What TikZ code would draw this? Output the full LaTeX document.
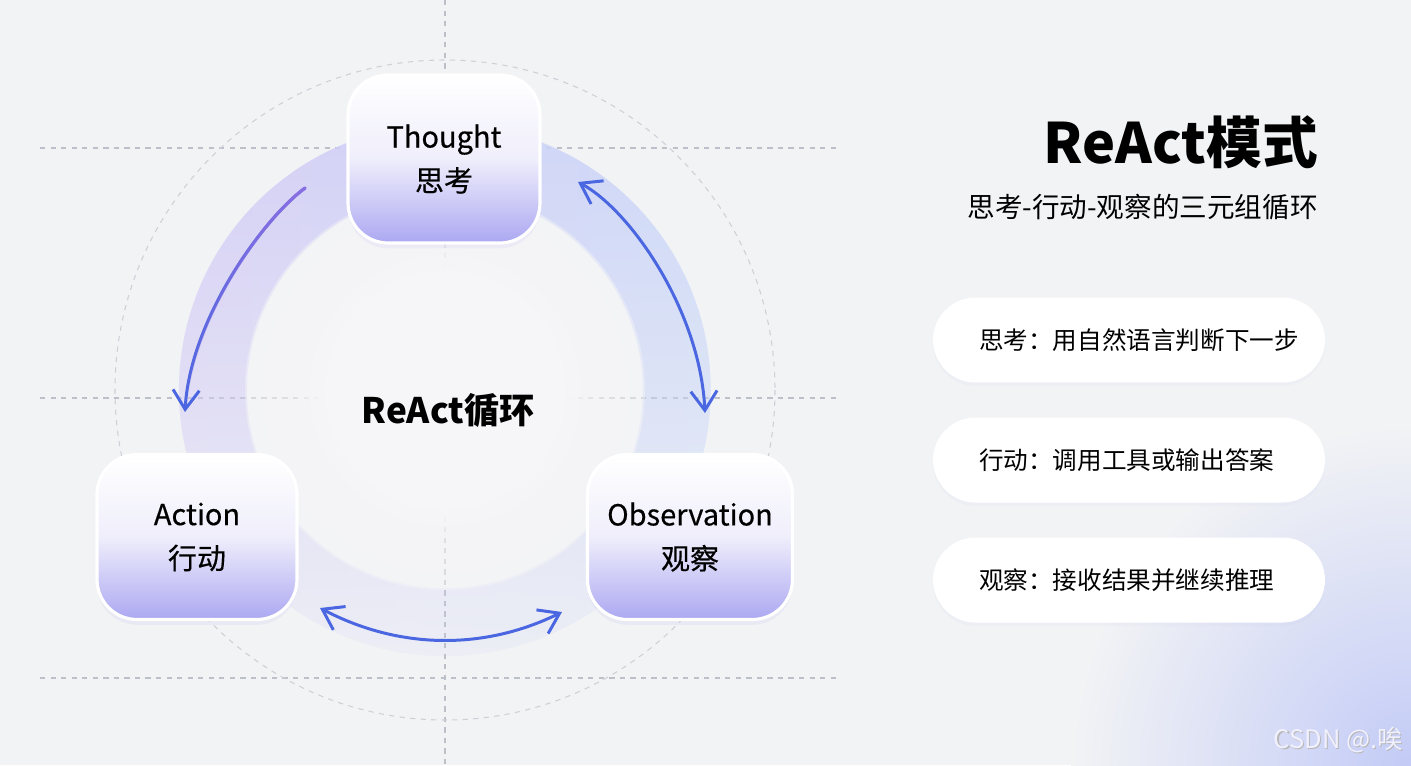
\documentclass[tikz,border=0pt]{standalone}
\usepackage{fontspec}
\setmainfont{Noto Sans CJK SC}
\newfontfamily\cardfont{Noto Sans CJK SC}[FakeBold=0.4]
\usetikzlibrary{arrows.meta,fadings,shadows}
\definecolor{bgc}{HTML}{F2F3F5}
\definecolor{gridc}{HTML}{BCC0C8}
\definecolor{arrc}{HTML}{4A66E0}
\definecolor{arrp}{HTML}{8A6FE2}
\definecolor{cardlow}{HTML}{ACA8F2}
\definecolor{cardmid}{HTML}{EFEEFB}
\definecolor{bandl}{HTML}{D3CBF6}
\definecolor{bandr}{HTML}{C9D6F8}
\definecolor{glow}{HTML}{C3CBF6}
\definecolor{diskc}{HTML}{F6F6F8}
\tikzfading[name=bandfade, top color=transparent!10, bottom color=transparent!85]
\tikzfading[name=diskfade, inner color=transparent!0, outer color=transparent!55]
\tikzfading[name=arrowfade, top color=transparent!0, bottom color=transparent!100]
\tikzset{
  stepcard/.style={draw=white, line width=1.8pt, rounded corners=0.8cm,
    top color=white, bottom color=cardlow, middle color=cardmid,
    align=center, minimum height=3.3cm, font=\cardfont\fontsize{16.5}{25}\selectfont,
    drop shadow={opacity=0.12, shadow xshift=0pt, shadow yshift=-3pt, fill=cardlow}},
  pill/.style={fill=white, rounded corners=0.85cm, minimum height=1.7cm,
    text width=6cm, inner xsep=0.92cm, align=left, font=\fontsize{14}{17}\selectfont,
    drop shadow={opacity=0.05, shadow xshift=0pt, shadow yshift=-2pt, fill=cardlow}},
  gridline/.style={gridc, line width=0.6pt, dash pattern=on 3pt off 3pt},
  cycarrow/.style={arrc, line width=1.7pt, line cap=round},
}
\begin{document}
\begin{tikzpicture}[x=0.02cm, y=-0.02cm,
   barb/.tip={Straight Barb[length=11pt, width=15pt, line width=1.7pt]}
   ]
  \useasboundingbox (0,0) rectangle (1411,765);
  \fill[bgc] (0,0) rectangle (1411,765);
  \begin{scope}
    \clip (0,0) rectangle (1411,765);
    \shade[inner color=glow, outer color=bgc] (1411,765) circle (340);
  \end{scope}

  % guide lines
  \foreach \gy in {148,398,678}
    \draw[gridline] (40,\gy) -- (840,\gy);
  \draw[gridline] (445,0) -- (445,765);
  \draw[gridline, gridc!75] (445,390) circle (330);

  % ring
  \shade[even odd rule, left color=bandl, right color=bandr, path fading=bandfade]
    (445,390) circle (266) (445,390) circle (198);
  \fill[diskc, path fading=diskfade] (445,390) circle (200);
  \fill[diskc, path fading=circle with fuzzy edge 20 percent] (445,390) circle (150);

  \coordinate (l1) at (305,188);
  \coordinate (l2) at (185,412);
  \coordinate (r1) at (578,182);
  \coordinate (r2) at (705,413);
  \coordinate (b1) at (320,608);
  \coordinate (b2) at (562,612);

  \draw[cycarrow, arrows={-barb}] (l1) .. controls (262,220) and (190,320) .. (l2);
  \draw[arrp, line width=1.8pt, line cap=round, path fading=arrowfade]
    (l1) .. controls (262,220) and (190,320) .. (l2);
  \draw[cycarrow, arrows={barb-barb}] (r1) .. controls (630,210) and (700,310) .. (r2);
  \draw[cycarrow, arrows={barb-barb}] (b1) .. controls (400,650) and (485,650) .. (b2);

  \node[stepcard, minimum width=3.84cm, minimum height=3.36cm] (T) at (444,159) {Thought\\思考};
  \node[stepcard, minimum width=4cm] (A) at (197,537) {Action\\行动};
  \node[stepcard, minimum width=4.1cm] (O) at (690,537) {Observation\\观察};
  \node[font=\fontsize{20}{24}\selectfont\bfseries] (C) at (448,410) {ReAct循环};

  % right panel
  \node[anchor=base east, inner sep=0pt, font=\fontsize{31.7}{38}\selectfont\bfseries] (title) at (1318,163) {ReAct模式};
  \node[anchor=base east, inner sep=0pt, font=\fontsize{15.7}{19}\selectfont] (sub) at (1318,217) {思考-行动-观察的三元组循环};
  \node[pill] (p1) at (1129,340) {思考：用自然语言判断下一步};
  \node[pill] (p2) at (1129,460) {行动：调用工具或输出答案};
  \node[pill] (p3) at (1129,580) {观察：接收结果并继续推理};

  \node[font=\fontsize{14.5}{17}\selectfont, text=gray!55] at (1339.6,741) {CSDN @.唉};
  \node[font=\fontsize{14.5}{17}\selectfont, text=white!94!blue] (wm) at (1338.5,740) {CSDN @.唉};
\end{tikzpicture}
\end{document}
